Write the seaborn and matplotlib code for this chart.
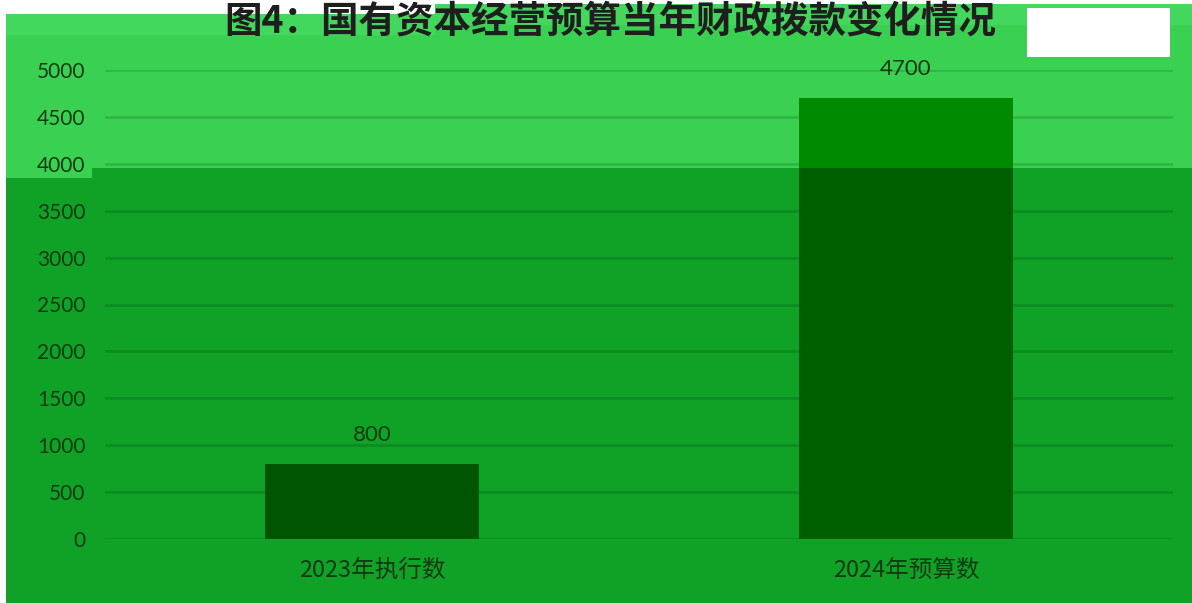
import matplotlib.pyplot as plt
import seaborn as sns
import pandas as pd
from matplotlib.patches import Rectangle

# chart data
categories = ["2023年执行数", "2024年预算数"]
values = [800, 4700]
y_ticks = [0, 500, 1000, 1500, 2000, 2500, 3000, 3500, 4000, 4500, 5000]
title = "图4：国有资本经营预算当年财政拨款变化情况"

df = pd.DataFrame({"cat": categories, "val": values})

sns.set_theme(style="white")
plt.rcParams["font.family"] = ["Lato", "Noto Sans CJK SC", "DejaVu Sans"]

W, H = 1192, 603
fig = plt.figure(figsize=(W / 100, H / 100), dpi=100, facecolor="white")


def px_rect(x0, y0, x1, y1, color, z=0):
    # rectangle given in pixel coords (top-left origin)
    r = Rectangle((x0 / W, 1 - y1 / H), (x1 - x0) / W, (y1 - y0) / H,
                  transform=fig.transFigure, facecolor=color, edgecolor="none",
                  zorder=z)
    fig.patches.append(r)
    return r


# background bands
px_rect(6, 14, W, H, "#0fa227", -5)
px_rect(435, 4, W, 14, "#44d75e", -4)
px_rect(6, 14, W, 168, "#3ad052", -4)
px_rect(6, 14, 92, 178, "#3ad052", -4)
px_rect(6, 14, 435, 35, "#44d75e", -3)
px_rect(435, 4, W, 25, "#44d75e", -3)

ax = fig.add_axes([105 / W, 1 - 539 / H, 1068 / W, 469 / H])
ax.set_facecolor("none")

# base bars
sns.barplot(data=df, x="cat", y="val", hue="cat", legend=False,
            palette=["#005500", "#005f00"], width=0.4, saturation=1,
            edgecolor="none", linewidth=0, ax=ax, zorder=3)
n_base = len(ax.patches)

# same bars in lighter tone, visible only in the upper band
sns.barplot(data=df, x="cat", y="val", hue="cat", legend=False,
            palette=["#008a00", "#008a00"], width=0.4, saturation=1,
            edgecolor="none", linewidth=0, ax=ax, zorder=3)
clip = Rectangle((0, 1 - 168 / H), 1, 168 / H, transform=fig.transFigure)
for p in ax.patches[n_base:]:
    p.set_clip_path(clip)

ax.bar_label(ax.containers[0], fontsize=16, padding=14, color="#0f3a12")
ax.bar_label(ax.containers[1], fontsize=16, padding=14, color="#0f3a12")

ax.set_xlim(-0.5, 1.5)
ax.set_ylim(0, 5000)
ax.set_yticks(y_ticks)
ax.yaxis.grid(True, color="black", alpha=0.13, linewidth=2, zorder=0)
ax.set_axisbelow(True)
for s in ax.spines.values():
    s.set_visible(False)
ax.tick_params(axis="y", length=0, pad=14, labelsize=15, labelcolor="#0f3a12")
ax.tick_params(axis="x", length=0, pad=14, labelsize=17, labelcolor="#0f3a12")
for lbl in ax.get_xticklabels():
    lbl.set_family(["Noto Sans CJK SC", "DejaVu Sans"])
ax.set_xlabel("")
ax.set_ylabel("")

fig.text(610 / W, 1 - 21 / H, title, ha="center", va="center", fontsize=27,
         fontweight="bold", color="#1e1e1e",
         family=["Noto Sans CJK SC", "DejaVu Sans"])

# white box top right
px_rect(1027, 8, 1170, 57, "white", 5)

fig.savefig("out.png", dpi=100, facecolor=fig.get_facecolor())
